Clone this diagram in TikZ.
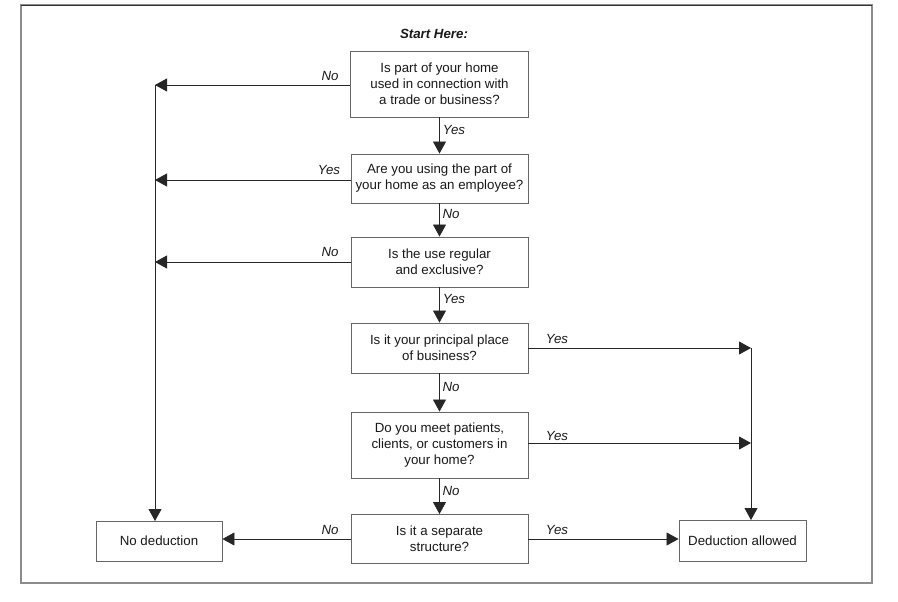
\documentclass[tikz,border=0pt]{standalone}
\usepackage{fontspec}
\setmainfont{Liberation Sans}
\usetikzlibrary{arrows.meta}
\begin{document}
\begin{tikzpicture}[x=1pt,y=-1pt,
  box/.style={draw=black!60, line width=0.9pt, fill=white, align=center,
    font=\fontsize{13.3}{16}\selectfont, inner sep=0pt, text=black!90},
  conn/.style={draw=black!85, line width=0.8pt},
  arr/.style={conn, -{Triangle[length=12pt,width=13pt]}},
  lab/.style={font=\fontsize{13.3}{16}\selectfont\itshape, inner sep=1pt, text=black!90}]
\useasboundingbox (0,0) rectangle (898,602);
\draw[black!45, line width=1.2pt] (21,5) rectangle (872,583);
\draw[black!80, line width=0.8pt] (21,5) -- (872,5);

\node[font=\fontsize{13.3}{16}\selectfont\bfseries\itshape, text=black!90] (start) at (434,34) {Start Here:};

\node[box, minimum width=178pt, minimum height=66pt] (b1) at (439.5,84) {Is part of your home\\used in connection with\\a trade or business?};
\node[box, minimum width=177pt, minimum height=49pt] (b2) at (439.5,178.5) {Are you using the part of\\your home as an employee?};
\node[box, minimum width=177pt, minimum height=50pt] (b3) at (439.5,262) {Is the use regular\\and exclusive?};
\node[box, minimum width=177pt, minimum height=50pt] (b4) at (439.5,348) {Is it your principal place\\of business?};
\node[box, minimum width=177pt, minimum height=66pt] (b5) at (439.5,445) {Do you meet patients,\\clients, or customers in\\your home?};
\node[box, minimum width=177pt, minimum height=49pt] (b6) at (439.5,539) {Is it a separate\\structure?};
\node[box, minimum width=126pt, minimum height=40pt] (nd) at (159,541) {No deduction};
\node[box, minimum width=127pt, minimum height=41pt] (da) at (742.5,540.5) {Deduction allowed};

\coordinate (L1) at (155,85);
\coordinate (L2) at (155,180);
\coordinate (L3) at (155,262);
\coordinate (R4) at (751,348);
\coordinate (R5) at (751,443);
\coordinate (LB) at (155,521);
\coordinate (RB) at (751,520);

% vertical flow
\draw[arr] (b1.south) -- (b2.north);
\draw[arr] (b2.south) -- (b3.north);
\draw[arr] (b3.south) -- (b4.north);
\draw[arr] (b4.south) -- (b5.north);
\draw[arr] (b5.south) -- (b6.north);

% left branches
\draw[arr] (b1.west |- L1) -- (L1);
\draw[arr] (b2.west |- L2) -- (L2);
\draw[arr] (b3.west |- L3) -- (L3);
\draw[arr] (L1) -- (LB);
\draw[arr] (b6.west) -- (b6.west -| nd.east);

% right branches
\draw[arr] (b4.east) -- (R4);
\draw[arr] (b5.east |- R5) -- (R5);
\draw[arr] (R4) -- (RB);
\draw[arr] (b6.east) -- (b6.east -| da.west);

% labels
\node[lab] (t1) at (330,76) {No};
\node[lab] (t2) at (454,130) {Yes};
\node[lab] (t3) at (329,170) {Yes};
\node[lab] (t4) at (451,214) {No};
\node[lab] (t5) at (330,252) {No};
\node[lab] (t6) at (454,299) {Yes};
\node[lab] (t7) at (557,339) {Yes};
\node[lab] (t8) at (451,387) {No};
\node[lab] (t9) at (557,436) {Yes};
\node[lab] (t10) at (451,491) {No};
\node[lab] (t11) at (330,530) {No};
\node[lab] (t12) at (557,530) {Yes};
\end{tikzpicture}
\end{document}
